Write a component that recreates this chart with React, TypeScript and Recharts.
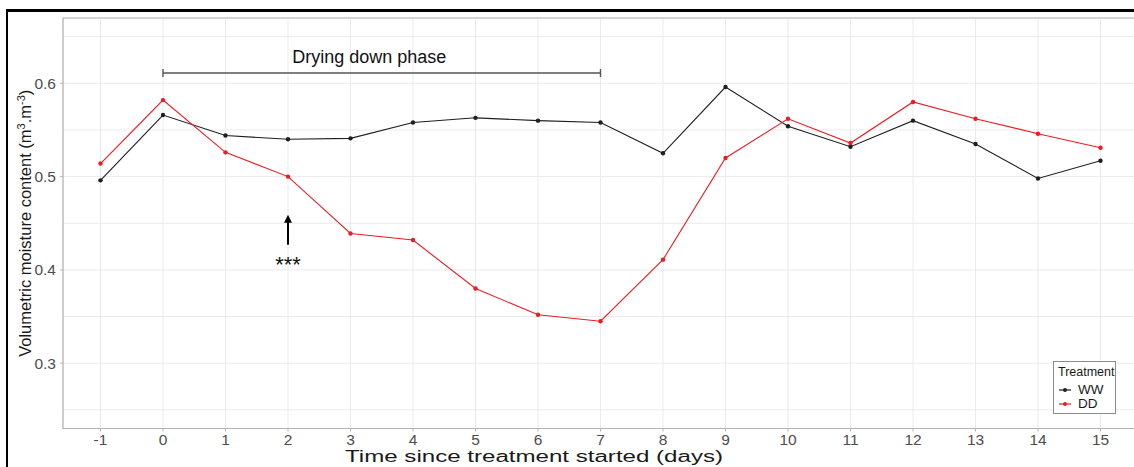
import React from 'react';
import {
  CartesianGrid,
  Line,
  LineChart,
  ReferenceArea,
  ReferenceDot,
  ReferenceLine,
  XAxis,
  YAxis,
} from 'recharts';

// days since treatment started
const days = [-1, 0, 1, 2, 3, 4, 5, 6, 7, 8, 9, 10, 11, 12, 13, 14, 15];
// volumetric moisture content, well watered
const ww = [0.496, 0.566, 0.544, 0.54, 0.541, 0.558, 0.563, 0.56, 0.558, 0.525, 0.596, 0.554, 0.532, 0.56, 0.535, 0.498, 0.517];
// volumetric moisture content, drying down
const dd = [0.514, 0.582, 0.526, 0.5, 0.439, 0.432, 0.38, 0.352, 0.345, 0.411, 0.52, 0.562, 0.536, 0.58, 0.562, 0.546, 0.531];

const yGrid = [0.25, 0.3, 0.35, 0.4, 0.45, 0.5, 0.55, 0.6, 0.65];
const yLabels = [0.3, 0.4, 0.5, 0.6];

const series = [
  { key: 'WW', color: '#1f1f1f', values: ww },
  { key: 'DD', color: '#ec1c24', values: dd },
];

const data = days.map((d, i) => ({ day: d, WW: ww[i], DD: dd[i] }));

const FONT = 'Arial, "Liberation Sans", Helvetica, sans-serif';
const GREY_TEXT = '#4d4d4d';
const BORDER = '#b3b3b3';

function YTick(props: any) {
  const { x, y, payload } = props;
  const v = payload?.value;
  if (!yLabels.some((l) => Math.abs(l - v) < 1e-9)) return <g />;
  return (
    <g>
      <line x1={x + 4} x2={x + 7} y1={y} y2={y} stroke={BORDER} />
      <text x={x} y={y} dy={5.5} textAnchor="end" fill={GREY_TEXT} fontSize={15.5} fontFamily={FONT}>
        {v.toFixed(1)}
      </text>
    </g>
  );
}

function YTitle(props: any) {
  const vb = props?.viewBox ?? { x: 13, y: 18, width: 50, height: 410 };
  const cx = vb.x + 12;
  const cy = vb.y + vb.height / 2;
  return (
    <text
      x={cx}
      y={cy}
      transform={`rotate(-90 ${cx} ${cy})`}
      textAnchor="middle"
      dy={6}
      fontSize={16.5}
      fill="#1a1a1a"
      fontFamily={FONT}
    >
      Volumetric moisture content (m
      <tspan fontSize={11} dy={-6}>3</tspan>
      <tspan dy={6}>.m</tspan>
      <tspan fontSize={11} dy={-6}>-3</tspan>
      <tspan dy={6}>)</tspan>
    </text>
  );
}

function XTitle(props: any) {
  const vb = props?.viewBox ?? { x: 63, y: 428, width: 1075, height: 30 };
  return (
    <text
      x={vb.x + 282}
      y={vb.y + 33}
      textLength={378}
      lengthAdjust="spacingAndGlyphs"
      fontSize={16}
      fill="#1a1a1a"
      fontFamily={FONT}
    >
      Time since treatment started (days)
    </text>
  );
}

function Bracket(props: any) {
  const { x1, y1, x2, y2 } = props;
  return (
    <g stroke="#555" strokeWidth={1.4}>
      <line x1={x1} y1={y1} x2={x2} y2={y2} />
      <line x1={x1} x2={x1} y1={y1 - 4} y2={y1 + 4} />
      <line x1={x2} x2={x2} y1={y2 - 4} y2={y2 + 4} />
    </g>
  );
}

function Arrow(props: any) {
  const { x1, y1, x2, y2 } = props;
  return (
    <g>
      <line x1={x1} y1={y1} x2={x2} y2={y2 + 6} stroke="#000" strokeWidth={2} />
      <polygon points={`${x2},${y2} ${x2 - 4},${y2 + 8} ${x2 + 4},${y2 + 8}`} fill="#000" />
    </g>
  );
}

function LegendBox() {
  return (
    <div
      style={{
        position: 'absolute',
        left: 1053,
        top: 361,
        width: 61,
        height: 51,
        border: '1.5px solid #8c8c8c',
        background: '#fff',
        fontFamily: FONT,
        color: '#1a1a1a',
      }}
    >
      <div style={{ position: 'absolute', left: 4, top: 3, fontSize: 12.5, lineHeight: '14px' }}>Treatment</div>
      {series.map((s, i) => (
        <div
          key={s.key}
          style={{ position: 'absolute', left: 4, top: 21 + i * 14, height: 14, display: 'flex', alignItems: 'center' }}
        >
          <svg width={14} height={14}>
            <line x1={1} x2={13} y1={7} y2={7} stroke={s.color} strokeWidth={1.2} />
            <circle cx={7} cy={7} r={2} fill={s.color} />
          </svg>
          <span style={{ marginLeft: 6, fontSize: 13.5, lineHeight: '14px' }}>{s.key}</span>
        </div>
      ))}
    </div>
  );
}

export default function App() {
  return (
    <div
      style={{
        position: 'absolute',
        left: 0,
        top: 0,
        width: 1134,
        height: 467,
        overflow: 'hidden',
        background: '#fff',
        fontFamily: FONT,
      }}
    >
      <div
        style={{
          position: 'absolute',
          left: 6,
          top: 9,
          width: 1300,
          height: 600,
          borderTop: '3px solid #000',
          borderLeft: '2px solid #000',
        }}
      />
      <div style={{ position: 'absolute', left: 0, top: 0 }}>
        <LineChart width={1180} height={467} data={data} margin={{ top: 18, right: 42, bottom: 8.5, left: 13 }}>
          <CartesianGrid stroke="#ebebeb" strokeWidth={1} />
          <XAxis
            dataKey="day"
            type="number"
            domain={[-1.6, 15.6]}
            ticks={days}
            interval={0}
            height={30}
            tickSize={3}
            tickMargin={2}
            axisLine={{ stroke: BORDER }}
            tickLine={{ stroke: BORDER }}
            tick={{ fill: GREY_TEXT, fontSize: 15.5, fontFamily: FONT }}
            label={(p: any) => <XTitle {...p} />}
          />
          <YAxis
            type="number"
            domain={[0.23, 0.67]}
            ticks={yGrid}
            interval={0}
            width={50}
            tickSize={3}
            tickMargin={4}
            axisLine={false}
            tickLine={false}
            tick={(p: any) => <YTick {...p} />}
            label={(p: any) => <YTitle {...p} />}
          />
          <ReferenceArea
            x1={-1.6}
            x2={15.6}
            y1={0.23}
            y2={0.67}
            fill="none"
            fillOpacity={0}
            stroke={BORDER}
            strokeWidth={1.2}
            ifOverflow="visible"
          />
          <ReferenceLine
            segment={[
              { x: 0, y: 0.611 },
              { x: 7, y: 0.611 },
            ]}
            shape={(p: any) => <Bracket {...p} />}
            ifOverflow="visible"
          />
          <ReferenceDot
            x={3.3}
            y={0.629}
            r={0}
            fill="none"
            stroke="none"
            ifOverflow="visible"
            label={{ value: 'Drying down phase', position: 'center', fontSize: 18, fill: '#111', fontFamily: FONT }}
          />
          <ReferenceLine
            segment={[
              { x: 2, y: 0.427 },
              { x: 2, y: 0.459 },
            ]}
            shape={(p: any) => <Arrow {...p} />}
            ifOverflow="visible"
          />
          <ReferenceDot
            x={2}
            y={0.406}
            r={0}
            fill="none"
            stroke="none"
            ifOverflow="visible"
            label={{ value: '***', position: 'center', fontSize: 22, fill: '#111', fontFamily: FONT }}
          />
          {series.map((s) => (
            <Line
              key={s.key}
              dataKey={s.key}
              type="linear"
              stroke={s.color}
              strokeWidth={1.1}
              dot={{ r: 2.2, fill: s.color, stroke: s.color, strokeWidth: 0 }}
              activeDot={false}
              isAnimationActive={false}
            />
          ))}
        </LineChart>
      </div>
      <LegendBox />
    </div>
  );
}
